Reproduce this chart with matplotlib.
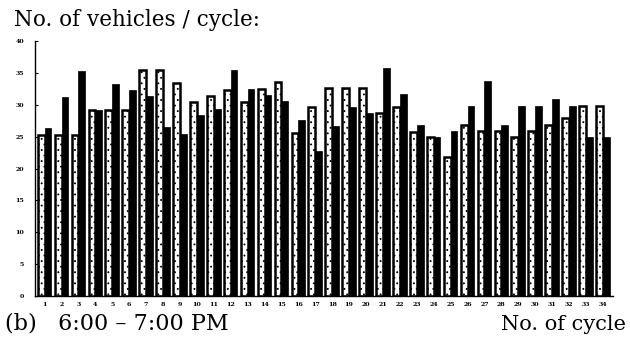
import matplotlib
matplotlib.use("Agg")
import matplotlib.pyplot as plt
import numpy as np

cycles = list(range(1, 35))
light_vals = [25.2, 25.2, 25.2, 29.2, 29.2, 29.2, 35.4, 35.4, 33.4, 30.4,
              31.4, 32.4, 30.4, 32.5, 33.6, 25.6, 29.6, 32.7, 32.7, 32.7,
              28.7, 29.7, 25.8, 24.9, 21.8, 26.9, 25.9, 25.9, 24.9, 25.9,
              26.9, 27.9, 29.9, 29.9]
dark_vals = [26.3, 31.2, 35.3, 29.2, 33.3, 32.4, 31.4, 26.5, 25.5, 28.4,
             29.4, 35.5, 32.5, 31.5, 30.6, 27.6, 22.7, 26.7, 29.6, 28.7,
             35.8, 31.7, 26.9, 24.9, 25.9, 29.8, 33.8, 26.9, 29.8, 29.8,
             31.0, 29.9, 25.0, 25.0]
yticks = [0, 5, 10, 15, 20, 25, 30, 35, 40]

plt.rcParams["hatch.color"] = "#555555"
plt.rcParams["hatch.linewidth"] = 0.6

fig = plt.figure(figsize=(6.3, 3.43), dpi=100)
ax = fig.add_axes([0.056, 0.137, 0.917, 0.743])

x = np.array(cycles, dtype=float)
w = 0.40
ax.bar(x - w / 2, light_vals, width=w, color="white", edgecolor="black",
       linewidth=1.8, hatch="...")
ax.bar(x + w / 2, dark_vals, width=w, color="black", edgecolor="black",
       linewidth=0.5)

ax.set_xlim(0.45, 34.6)
ax.set_ylim(0, 40)
ax.set_yticks(yticks)
ax.set_yticklabels([str(t) for t in yticks], fontsize=4.5, fontweight="bold",
                   family="DejaVu Serif")
ax.set_xticks(x)
ax.set_xticklabels([str(c) for c in cycles], fontsize=4.5, fontweight="bold",
                   family="DejaVu Serif")
ax.tick_params(axis="x", length=0, pad=4)
ax.tick_params(axis="y", length=2, width=0.8, direction="in", pad=8)
for s in ["top", "right"]:
    ax.spines[s].set_visible(False)
ax.spines["left"].set_linewidth(1.0)
ax.spines["bottom"].set_linewidth(1.0)
ax.spines["bottom"].set_linestyle((0, (1, 1)))

fig.text(0.022, 0.975, "No. of vehicles / cycle:", fontsize=15.5,
         family="DejaVu Serif", va="top", ha="left")
fig.text(0.008, 0.025, "(b)   6:00 \u2013 7:00 PM", fontsize=16,
         family="DejaVu Serif", va="bottom", ha="left")
fig.text(0.993, 0.025, "No. of cycle", fontsize=15,
         family="DejaVu Serif", va="bottom", ha="right")

fig.savefig("out.png", dpi=100)
